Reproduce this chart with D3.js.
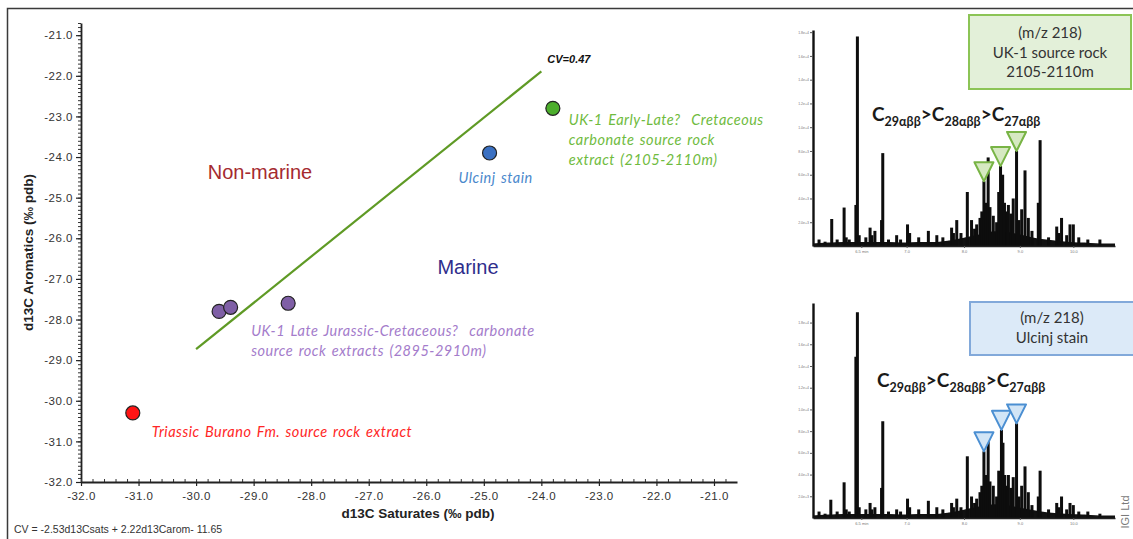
<!DOCTYPE html>
<html>
<head>
<meta charset="utf-8">
<script src="https://cdn.jsdelivr.net/npm/d3@7"></script>
<style>
  body { margin: 0; background: #fff; }
  svg { display: block; }
</style>
</head>
<body>
<svg id="chart" width="1133" height="539"></svg>
<script>
// ---------- isotope cross-plot data ----------
const sampleNames   = ["Triassic Burano Fm.", "UK-1 2895m", "UK-1 2900m", "UK-1 2910m", "Ulcinj stain", "UK-1 2105-2110m"];
const saturatesD13C = [-31.1, -29.6, -29.4, -28.4, -24.9, -23.8];
const aromaticsD13C = [-30.3, -27.8, -27.7, -27.6, -23.9, -22.8];
const sampleGroups  = ["triassic", "jurassic", "jurassic", "jurassic", "ulcinj", "cretaceous"];

const axisTicks = [-32, -31, -30, -29, -28, -27, -26, -25, -24, -23, -22, -21];

// canonical variable: CV = a*d13Csat + b*d13Carom + c
const cvSat = -2.53, cvArom = 2.22, cvConst = -11.65, cvValue = 0.47;
const cvLineSat = [-30.0, -24.0];

// ---------- m/z 218 sterane traces (retention on a 0-100 scale, relative intensity) ----------
const ukRetention = [2, 4, 6.2, 8, 10.3, 11, 12, 14.2, 14.7, 15.3, 17.5, 18.9, 19.5, 20.5, 22.7, 23.1, 25, 27.7, 29, 31.3, 32, 35, 38.2, 41, 43, 45.9, 46.5, 47.6, 49, 51.1, 52.5, 53.5, 54.2, 55.3, 55.9, 56.6, 57.2, 58.0, 58.6, 59.7, 60.8, 61.5, 62.1, 62.8, 63.4, 64.1, 64.7, 65.5, 66.3, 67.4, 68.2, 69.1, 70.2, 71.3, 72.5, 74.6, 75.2, 78, 80.7, 81.3, 82.3, 84, 85.1, 86.2, 88, 91, 95];
const ukHeight    = [0.03, 0.02, 0.125, 0.03, 0.178, 0.04, 0.03, 0.19, 0.97, 0.05, 0.04, 0.085, 0.05, 0.07, 0.12, 0.43, 0.03, 0.05, 0.03, 0.10, 0.06, 0.04, 0.07, 0.05, 0.04, 0.085, 0.06, 0.12, 0.06, 0.25, 0.12, 0.08, 0.10, 0.13, 0.16, 0.30, 0.20, 0.41, 0.18, 0.14, 0.11, 0.25, 0.37, 0.33, 0.20, 0.16, 0.19, 0.15, 0.22, 0.44, 0.12, 0.17, 0.35, 0.13, 0.07, 0.20, 0.49, 0.04, 0.09, 0.06, 0.13, 0.05, 0.10, 0.10, 0.04, 0.03, 0.03];
const ulRetention = [2, 4, 5.9, 8, 10.3, 11, 12, 14.2, 14.7, 15.3, 17.5, 18.9, 19.5, 20.5, 22.7, 23.1, 25, 27.7, 29, 31.3, 32, 35, 38.2, 41, 43, 45.9, 46.5, 47.6, 49, 51.1, 52.5, 53.5, 54.2, 55.3, 55.9, 56.6, 57.2, 58.0, 58.6, 59.7, 60.8, 61.5, 62.4, 62.9, 63.5, 64.1, 64.7, 65.5, 66.3, 67.4, 68.2, 69.1, 70.2, 71.3, 72.5, 74.6, 75.2, 78, 80.7, 81.3, 82.3, 84, 85.1, 86.2, 88, 91, 95];
const ulHeight    = [0.03, 0.02, 0.085, 0.03, 0.166, 0.04, 0.03, 0.75, 0.957, 0.05, 0.04, 0.07, 0.04, 0.05, 0.14, 0.45, 0.03, 0.04, 0.03, 0.09, 0.05, 0.04, 0.08, 0.05, 0.04, 0.07, 0.05, 0.09, 0.05, 0.287, 0.10, 0.07, 0.09, 0.12, 0.15, 0.31, 0.20, 0.395, 0.17, 0.15, 0.10, 0.22, 0.41, 0.35, 0.20, 0.15, 0.20, 0.14, 0.19, 0.44, 0.10, 0.15, 0.24, 0.12, 0.06, 0.10, 0.22, 0.04, 0.07, 0.05, 0.10, 0.04, 0.07, 0.06, 0.03, 0.03, 0.02];
const humpRetention = [0, 5, 10, 15, 20, 25, 30, 35, 40, 45, 50, 55, 60, 65, 70, 75, 80, 85, 90, 95, 100];
const ukHump = [0.008, 0.012, 0.015, 0.015, 0.015, 0.015, 0.012, 0.015, 0.015, 0.022, 0.035, 0.05, 0.065, 0.06, 0.045, 0.03, 0.022, 0.015, 0.012, 0.008, 0.008];
const ulHump = [0.008, 0.012, 0.015, 0.015, 0.015, 0.015, 0.012, 0.015, 0.015, 0.022, 0.035, 0.05, 0.06, 0.055, 0.04, 0.028, 0.02, 0.015, 0.012, 0.008, 0.008];
const ukMarked = [56.6, 62.1, 67.4];
const ulMarked = [56.6, 62.4, 67.4];
const traceTimeTicks  = [16, 31, 50, 68.5, 86.2];
const traceTimeLabels = ["6.5 min", "7.0", "8.0", "9.0", "10.0"];

// ---------- styling ----------
const groupFill  = { triassic: "#ff1414", jurassic: "#7f5fa6", ulcinj: "#3a70c2", cretaceous: "#4cae2c" };
const groupLabel = { triassic: "#ff2626", jurassic: "#a47ccb", ulcinj: "#4a88cc", cretaceous: "#6fbb3e" };
const sansFont   = "'Liberation Sans', Arial, sans-serif";
const noteFont   = "Lato, 'Open Sans', sans-serif";

const svg = d3.select("#chart");

// outer frame
svg.append("rect")
  .attr("x", 7.5).attr("y", 8.5).attr("width", 1140).attr("height", 540)
  .attr("fill", "none").attr("stroke", "#3a3a3a").attr("stroke-width", 1.5);

// ---------- scales ----------
const x = d3.scaleLinear().domain([-32, -20.6]).range([81, 737]);
const y = d3.scaleLinear().domain([-32, -20.7]).range([482, 23]);

// ---------- axes ----------
const yMinor = d3.range(-320, -206, 1).map(v => v / 10);
const xMinor = d3.range(-160, -103, 1).map(v => v / 5);

const gy = svg.append("g").attr("transform", `translate(${x(-32)},0)`);
gy.append("g")
  .call(d3.axisLeft(y).tickValues(yMinor).tickSize(3).tickSizeOuter(0).tickFormat(""))
  .call(g => g.select(".domain").remove())
  .selectAll("line").attr("stroke", "#333").attr("stroke-width", 1);
gy.append("g")
  .call(d3.axisLeft(y).tickValues(axisTicks).tickSize(5).tickSizeOuter(0).tickPadding(3).tickFormat(d => d.toFixed(1)))
  .call(g => g.select(".domain").attr("stroke", "#222").attr("stroke-width", 1.8))
  .call(g => g.selectAll("line").attr("stroke", "#222").attr("stroke-width", 1.2))
  .call(g => g.selectAll("text").attr("font-family", sansFont).attr("font-size", 11.5).attr("fill", "#333").attr("letter-spacing", 0.5));

const gx = svg.append("g").attr("transform", `translate(0,${y(-32)})`);
gx.append("g")
  .call(d3.axisTop(x).tickValues(xMinor).tickSize(3).tickSizeOuter(0).tickFormat(""))
  .call(g => g.select(".domain").remove())
  .selectAll("line").attr("stroke", "#333").attr("stroke-width", 1);
gx.append("g")
  .call(d3.axisBottom(x).tickValues(axisTicks).tickSize(4).tickSizeOuter(0).tickPadding(6).tickFormat(d => d.toFixed(1)))
  .call(g => g.select(".domain").attr("stroke", "#222").attr("stroke-width", 1.8))
  .call(g => g.selectAll("line").attr("stroke", "#222").attr("stroke-width", 1.2))
  .call(g => g.selectAll("text").attr("font-family", sansFont).attr("font-size", 11.5).attr("fill", "#333").attr("letter-spacing", 0.5));

// axis titles
svg.append("text")
  .attr("transform", `translate(33,${(y(-32) + y(-20.7)) / 2}) rotate(-90)`)
  .attr("text-anchor", "middle")
  .attr("font-family", sansFont).attr("font-weight", "bold").attr("font-size", 13.5).attr("fill", "#222")
  .text("d13C Aromatics (‰ pdb)");
svg.append("text")
  .attr("x", 418).attr("y", 518)
  .attr("text-anchor", "middle")
  .attr("font-family", sansFont).attr("font-weight", "bold").attr("font-size", 13.5).attr("fill", "#222")
  .text("d13C Saturates (‰ pdb)");

svg.append("text")
  .attr("x", 14).attr("y", 533)
  .attr("font-family", sansFont).attr("font-size", 10.5).attr("fill", "#333")
  .text("CV = -2.53d13Csats + 2.22d13Carom- 11.65");

// ---------- CV = 0.47 divider ----------
const aromOnCv = s => (cvValue - cvConst - cvSat * s) / cvArom;
svg.append("line")
  .attr("x1", x(cvLineSat[0])).attr("y1", y(aromOnCv(cvLineSat[0])))
  .attr("x2", x(cvLineSat[1])).attr("y2", y(aromOnCv(cvLineSat[1])))
  .attr("stroke", "#5f9a25").attr("stroke-width", 2.2);
svg.append("text")
  .attr("x", x(cvLineSat[1]) + 6).attr("y", y(aromOnCv(cvLineSat[1])) - 8)
  .attr("font-family", sansFont).attr("font-style", "italic").attr("font-weight", "bold")
  .attr("font-size", 11).attr("fill", "#111")
  .text("CV=" + cvValue.toFixed(2));

// region names
svg.append("text").attr("x", 260).attr("y", 179).attr("text-anchor", "middle")
  .attr("font-family", sansFont).attr("font-size", 20).attr("fill", "#a52a2f").text("Non-marine");
svg.append("text").attr("x", 468).attr("y", 274).attr("text-anchor", "middle")
  .attr("font-family", sansFont).attr("font-size", 20).attr("fill", "#2f2d8c").text("Marine");

// ---------- sample points ----------
const samples = sampleNames.map((n, i) => ({ name: n, sat: saturatesD13C[i], arom: aromaticsD13C[i], group: sampleGroups[i] }));
svg.append("g").selectAll("circle").data(samples).join("circle")
  .attr("cx", d => x(d.sat)).attr("cy", d => y(d.arom)).attr("r", 7)
  .attr("fill", d => groupFill[d.group]).attr("stroke", "#222").attr("stroke-width", 1.2);

// sample annotations, anchored on one point of each group
const notes = [
  { idx: 0, dx: 19, dy: 24, lines: ["Triassic Burano Fm. source rock extract"] },
  { idx: 3, dx: -37, dy: 33, lines: ["UK-1 Late Jurassic-Cretaceous?  carbonate", "source rock extracts (2895-2910m)"] },
  { idx: 4, dx: -31, dy: 30, lines: ["Ulcinj stain"] },
  { idx: 5, dx: 16, dy: 17, lines: ["UK-1 Early-Late?  Cretaceous", "carbonate source rock", "extract (2105-2110m)"] }
];
notes.forEach(n => {
  const s = samples[n.idx];
  const t = svg.append("text")
    .attr("font-family", noteFont).attr("font-style", "italic").attr("font-size", 14.5)
    .attr("letter-spacing", 0.5).attr("word-spacing", 1.5)
    .attr("fill", groupLabel[s.group]).attr("xml:space", "preserve");
  n.lines.forEach((l, i) => {
    t.append("tspan").attr("x", x(s.sat) + n.dx).attr("y", y(s.arom) + n.dy + i * 20).text(l);
  });
});

// ---------- chromatogram panels ----------
function drawTrace(opt) {
  const cx = d3.scaleLinear().domain([0, 100]).range([813, 1115]);
  const cy = d3.scaleLinear().domain([0, 1]).range([opt.base, opt.top]);
  const g = svg.append("g");

  // unresolved hump
  const hump = humpRetention.map((t, i) => [t, opt.hump[i]]);
  g.append("path").datum(hump)
    .attr("d", d3.area().x(d => cx(d[0])).y0(cy(0)).y1(d => cy(d[1])).curve(d3.curveMonotoneX))
    .attr("fill", "#111");
  g.append("path").datum(hump)
    .attr("d", d3.line().x(d => cx(d[0])).y(d => cy(d[1])).curve(d3.curveMonotoneX))
    .attr("fill", "none").attr("stroke", "#111").attr("stroke-width", 1.6);

  // peaks
  const peaks = opt.ret.map((t, i) => ({ t, h: opt.h[i] }));
  g.selectAll("rect.pk").data(peaks).join("rect").attr("class", "pk")
    .attr("x", d => cx(d.t) - 1.5).attr("width", 3)
    .attr("y", d => cy(d.h)).attr("height", d => cy(0) - cy(d.h))
    .attr("fill", "#0d0d0d");

  // axes
  const ya = d3.axisLeft(cy).tickValues(opt.yTicks).tickSize(3).tickSizeOuter(0).tickPadding(1)
    .tickFormat((d, i) => d3.format(".1e")((i + 1) * 2000));
  g.append("g").attr("transform", `translate(${cx(0)},0)`).call(ya)
    .call(a => a.select(".domain").attr("stroke", "#111").attr("stroke-width", 2.4))
    .call(a => a.selectAll("line").attr("stroke", "#555"))
    .call(a => a.selectAll("text").attr("font-family", sansFont).attr("font-size", 3.5).attr("fill", "#777"));
  const xa = d3.axisBottom(cx).tickValues(traceTimeTicks).tickSize(2).tickSizeOuter(0).tickPadding(2)
    .tickFormat((d, i) => traceTimeLabels[i]);
  g.append("g").attr("transform", `translate(0,${cy(0)})`).call(xa)
    .call(a => a.select(".domain").attr("stroke", "#222").attr("stroke-width", 1.6))
    .call(a => a.selectAll("line").attr("stroke", "#555"))
    .call(a => a.selectAll("text").attr("font-family", sansFont).attr("font-size", 4).attr("fill", "#777"));

  // marked sterane peaks
  const marked = opt.marked.map(t => ({ t, h: opt.h[opt.ret.indexOf(t)] }));
  g.selectAll("path.tri").data(marked).join("path").attr("class", "tri")
    .attr("d", d => {
      const px = cx(d.t), py = cy(d.h);
      return `M${px - 9.5},${py - 19}L${px + 9.5},${py - 19}L${px},${py}Z`;
    })
    .attr("fill", opt.triFill).attr("stroke", opt.triStroke).attr("stroke-width", 2).attr("stroke-linejoin", "round");

  // sterane ordering
  const f = g.append("text").attr("x", opt.formulaX).attr("y", opt.formulaY)
    .attr("font-family", noteFont).attr("font-weight", "bold").attr("fill", "#1a1a1a");
  const parts = [["C", "29αββ"], ["C", "28αββ"], ["C", "27αββ"]];
  parts.forEach((p, i) => {
    f.append("tspan").attr("font-size", 19).attr("dy", i === 0 ? 0 : -5).text((i === 0 ? "" : ">") + p[0]);
    f.append("tspan").attr("font-size", 12.5).attr("dy", 5).text(p[1]);
  });

  // sample box
  g.append("rect").attr("x", opt.box[0]).attr("y", opt.box[1]).attr("width", opt.box[2]).attr("height", opt.box[3])
    .attr("fill", opt.boxFill).attr("stroke", opt.boxStroke).attr("stroke-width", 2);
  const bt = g.append("text").attr("text-anchor", "middle")
    .attr("font-family", noteFont).attr("font-size", 15).attr("fill", "#333");
  opt.boxLines.forEach((l, i) => {
    bt.append("tspan").attr("x", opt.boxTextX).attr("y", opt.boxTextY + i * 19.5).text(l);
  });
}

drawTrace({
  base: 246, top: 30, ret: ukRetention, h: ukHeight, hump: ukHump, marked: ukMarked,
  yTicks: d3.range(1, 10).map(i => i * 0.11),
  triFill: "#d6e9c2", triStroke: "#78b445",
  formulaX: 872, formulaY: 121,
  box: [969, 15, 162, 74], boxFill: "#e3f0d9", boxStroke: "#8cc456",
  boxLines: ["(m/z 218)", "UK-1 source rock", "2105-2110m"], boxTextX: 1050, boxTextY: 38
});
drawTrace({
  base: 518, top: 303, ret: ulRetention, h: ulHeight, hump: ulHump, marked: ulMarked,
  yTicks: d3.range(1, 10).map(i => i * 0.101),
  triFill: "#d2e5f6", triStroke: "#4b8fd2",
  formulaX: 877, formulaY: 387,
  box: [970, 302, 170, 53], boxFill: "#dceaf8", boxStroke: "#82a9da",
  boxLines: ["(m/z 218)", "Ulcinj stain"], boxTextX: 1052, boxTextY: 323
});

// credit
svg.append("text")
  .attr("transform", "translate(1129,512) rotate(-90)")
  .attr("text-anchor", "middle")
  .attr("font-family", sansFont).attr("font-size", 11).attr("fill", "#7a7a7a")
  .text("IGI Ltd");
</script>
</body>
</html>
